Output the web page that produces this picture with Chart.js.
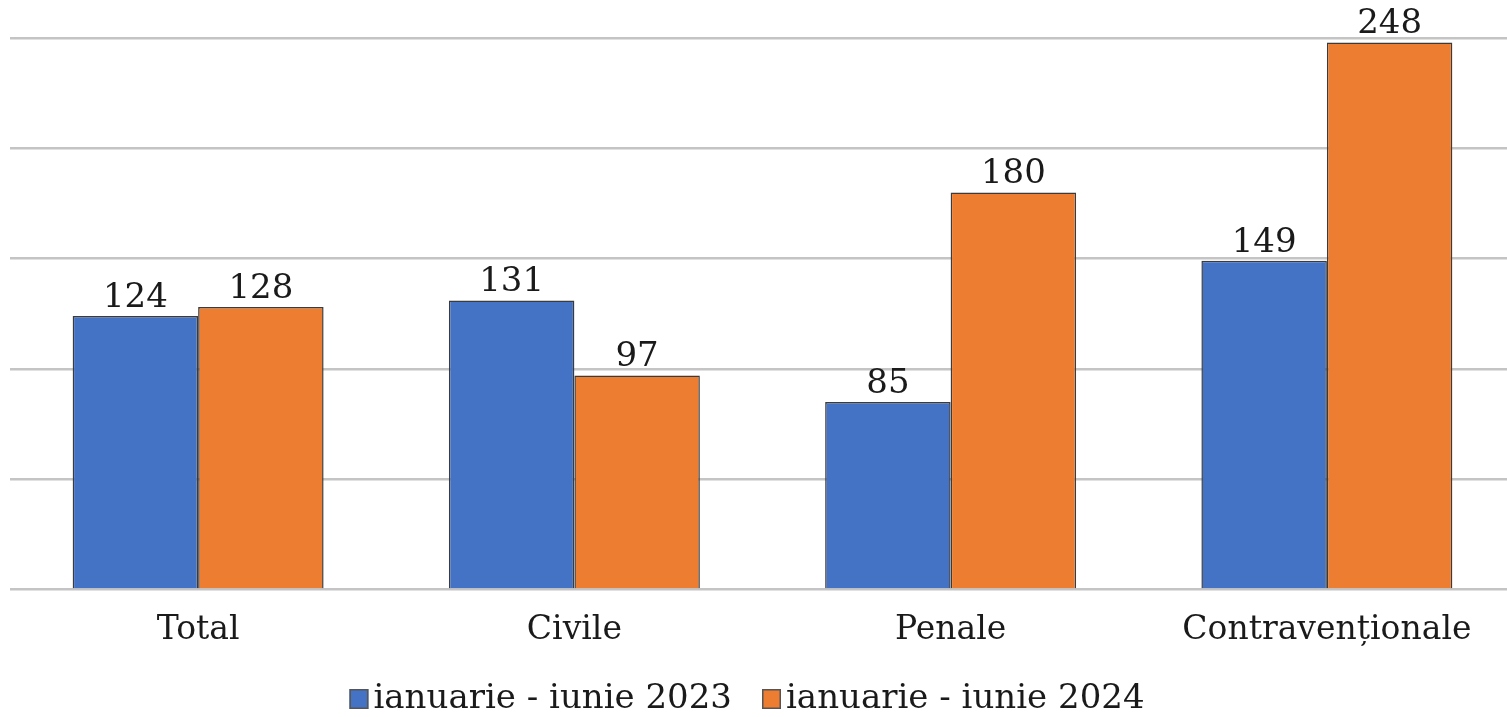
<!DOCTYPE html>
<html>
<head>
<meta charset="utf-8">
<script src="https://cdn.jsdelivr.net/npm/chart.js@4/dist/chart.umd.min.js"></script>
<style>
html,body{margin:0;padding:0;background:#fff;overflow:hidden;}
#wrap{width:1520px;height:717px;position:relative;}
</style>
</head>
<body>
<div id="wrap"><canvas id="c"></canvas></div>
<script>
const categories = ["Total", "Civile", "Penale", "Contravenționale"];
const seriesNames = ["ianuarie - iunie 2023", "ianuarie - iunie 2024"];
const values2023 = [124, 131, 85, 149];
const values2024 = [128, 97, 180, 248];
const yTicks = [0, 50, 100, 150, 200, 250];

const FONT = '"DejaVu Serif", serif';
const TXT = '#1a1a1a';

const labelPlugin = {
  id: 'valueLabels',
  afterDatasetsDraw(chart) {
    const ctx = chart.ctx;
    ctx.save();
    ctx.font = '34px ' + FONT;
    ctx.fillStyle = TXT;
    ctx.textAlign = 'center';
    ctx.textBaseline = 'bottom';
    chart.data.datasets.forEach((ds, i) => {
      chart.getDatasetMeta(i).data.forEach((bar, j) => {
        ctx.fillText(String(ds.data[j]), bar.x, bar.y - 1);
      });
    });
    ctx.restore();
  }
};

const legendPlugin = {
  id: 'customLegend',
  afterDraw(chart) {
    const ctx = chart.ctx;
    ctx.save();
    ctx.font = '34px ' + FONT;
    ctx.textBaseline = 'middle';
    ctx.textAlign = 'left';
    const boxW = 19, boxH = 20, gapBox = 5, gapItem = 30;
    const items = chart.data.datasets.map(ds => ({text: ds.label, color: ds.backgroundColor}));
    let total = 0;
    items.forEach((it, k) => {
      it.w = ctx.measureText(it.text).width;
      total += boxW + gapBox + it.w + (k < items.length - 1 ? gapItem : 0);
    });
    let x = 747 - total / 2;
    const y = 699;
    items.forEach(it => {
      ctx.fillStyle = it.color;
      ctx.fillRect(x, y - boxH / 2, boxW, boxH);
      ctx.strokeStyle = '#555';
      ctx.lineWidth = 1.5;
      ctx.strokeRect(x + 0.75, y - boxH / 2 + 0.75, boxW - 1.5, boxH - 1.5);
      x += boxW + gapBox;
      ctx.fillStyle = TXT;
      ctx.fillText(it.text, x, y);
      x += it.w + gapItem;
    });
    ctx.restore();
  }
};

new Chart(document.getElementById('c'), {
  type: 'bar',
  data: {
    labels: categories,
    datasets: [
      {label: seriesNames[0], data: values2023, backgroundColor: '#4472C4', borderColor: '#3b3b3b', borderWidth: 1.5},
      {label: seriesNames[1], data: values2024, backgroundColor: '#ED7D31', borderColor: '#3b3b3b', borderWidth: 1.5}
    ]
  },
  options: {
    responsive: true,
    maintainAspectRatio: false,
    animation: false,
    layout: {padding: {left: 10, right: 5, top: 38, bottom: 46}},
    datasets: {bar: {barPercentage: 1.0, categoryPercentage: 0.667}},
    plugins: {legend: {display: false}, tooltip: {enabled: false}},
    scales: {
      x: {
        grid: {display: false, drawTicks: false},
        border: {display: false},
        ticks: {font: {family: FONT, size: 33}, color: TXT, padding: 21}
      },
      y: {
        min: yTicks[0], max: yTicks[yTicks.length - 1],
        afterBuildTicks(axis) { axis.ticks = yTicks.map(v => ({value: v})); },
        ticks: {display: false},
        grid: {color: '#c4c4c4', lineWidth: 2.5, drawTicks: false},
        border: {display: false}
      }
    }
  },
  plugins: [labelPlugin, legendPlugin]
});
</script>
</body>
</html>
